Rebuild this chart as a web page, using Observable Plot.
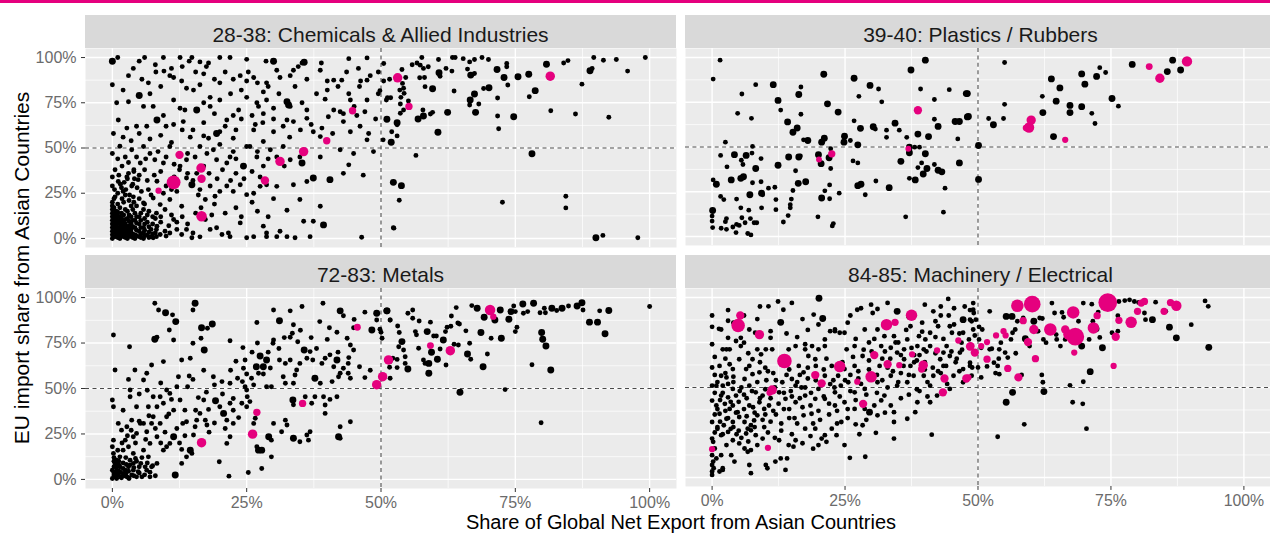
<!DOCTYPE html>
<html><head><meta charset="utf-8">
<script src="https://cdn.jsdelivr.net/npm/d3@7"></script>
<script src="https://cdn.jsdelivr.net/npm/@observablehq/plot@0.6"></script>
<style>
html,body{margin:0;padding:0;background:#fff;}
#chart{position:relative;width:1270px;height:533px;overflow:hidden;font-family:"Liberation Sans",Arial,sans-serif;}
.strip{position:absolute;background:#d9d9d9;color:#1a1a1a;font-size:21px;text-align:center;line-height:39px;white-space:nowrap;overflow:hidden;}
.pnl{position:absolute;}
</style></head><body><div id="chart"></div><script>
// ---------- data (percent units; third value = relative trade weight) ----------
const panelTitles = ["28-38: Chemicals & Allied Industries","39-40: Plastics / Rubbers","72-83: Metals","84-85: Machinery / Electrical"];
const xTitle = "Share of Global Net Export from Asian Countries";
const yTitle = "EU import share from Asian Countries";
const majorTicks = [0,0.25,0.5,0.75,1];
const minorTicks = [0.125,0.375,0.625,0.875];
const threshold = 0.5;

const chemicalsBlack = [
[0,98,2],[1,100],[6,100],[9.5,100],[12.6,100],[14.3,98],[14.8,100],[16.3,97.6],[17.9,97],[20,100],[21.9,100],[25,99],[28.6,98],[30,98,2],[35.7,97.4,2],[38.9,97],[44,99.4],[47.4,99.8],
[0,85],[3.9,94],[5.5,88],[6.7,86],[8.1,92],[9.6,92.5],[10.7,90],[11.4,89],[12.9,87],[13.8,83],[15.1,82],[16.3,85],[17,91],[18.2,78],[20,86],[22.5,88],[23.8,90],[25,87],[25.3,92],[26.3,89],[28.1,81],[28.7,86],[30.6,93],[31.2,89],[33.1,90],[33.7,93],[34.6,95],[35.3,97],[36.2,88],[38.7,93],[40,87],[41.2,87.5],[42.7,87.5],[43.6,92],[45.8,94],[46.2,87],[47.4,87.5],[49.5,92],[50.5,87],
[0.8,75],[3,75.6],[5,79,2],[5.8,73],[7.6,73],[9.5,68],[11.4,76.5],[12.6,72],[13.5,71],[15.7,71,2],[17,75],[18.2,73],[20,76.5],[22.5,68],[23.5,71],[25,78],[26.9,75],[27.2,73],[28.1,69],[28.7,76.5],[30,72],[32.5,75.6,2],[32.8,73.8,2],[33.1,73],[35.3,75],[36.2,71],[39.6,77],[41.2,71],[42.4,70],[44.3,76.5],[45.5,68],[47.4,76.5],[49.5,80],[51,76.5],
[0.2,58],[1.1,65.5],[2.7,61],[4.5,62],[6.4,62],[8.3,65.5,2],[10,62],[11.4,63],[13.2,64.6],[14.5,56],[17,56.7],[17.9,55.4],[19.4,58,2],[20,59],[21.3,65.5],[22.5,55.4],[25,50.8],[26.3,60],[26.6,63],[28.1,53.6],[30,59],[31.8,62],[32.5,65.5],[33.7,64.6],[36.2,66.4],[37.4,59],[38.7,56.3],[40.2,67.3],[43,64.6],[44.3,59],[46.1,62],[47.4,54.5],[47.7,58],[50.4,54.5],
[0,47],[1.4,51],[2.4,45],[3.6,49],[4.5,45],[5.2,41.7],[5.8,50.8],[7,47],[7.9,43.5],[9.5,41.7],[10.7,50.8],[12.6,40],[13.8,43.5],[15.4,45],[16.3,50.8],[17.6,47],[18.8,49],[19.4,43.5],[21.3,41.7],[21.9,45],[22.5,48],[24.4,40,2],[25.6,50.8],[26.9,45],[28.1,40],[29.4,49],[30.6,45],[31.8,50.8],[33.1,43.5],[34.9,45],[35.3,41.7,2],[37.4,33.4,2],[38.7,45],[40.5,32.5,2],[42.4,49],[44,40.7],[44.9,47],[46.7,35],[48.6,48],
[0,34],[0,29],[0.5,23],[1.1,31.5],[2,26],[2.7,34],[3.6,29],[3.9,23],[4.8,32.5],[5.8,19.6],[6.7,27],[7.6,22.4],[8.3,31.6],[8.9,18.7],[10,29],[10.7,21.5],[12,26],[12.9,17.8],[13.8,33.4],[14.8,29.7,2],[15.7,36],[16.3,27],[17.3,21.5],[18.2,29],[19.1,23.3],[20,26],[21.3,29],[22.5,26],[23.8,29.7],[25,24.2],[26.3,25],[27.5,28.8],[28.7,29.7],[30.6,28.8],[32.5,15.6],[33.7,29.7],[34.9,21.5],[36.2,31.5],[38.7,17.8],[43,36],
[7.6,0.4],[8.3,6.8],[8.9,2.2],[10,1.3],[10.7,3],[11.4,10.5],[12,5],[12.9,2.2],[13.8,5],[14.8,0.4],[16.3,0.9],[17.3,10.5],[18.2,5],[19.4,5.9],[20.4,2.2],[21.6,3],[21.9,1],[23.8,8.6],[25,0.4],[26.3,1],[28.1,6.8],[28.7,1],[28.7,3],[30.6,1],[31.2,4],[32.5,1],[34,0.4],[35.6,9.5],[36.8,1],[37.4,9.5],[39.3,7.5,2],[46.4,0.7],[52.3,5.9],
[0,0],[0,2],[0,4],[0,6],[0,8],[0,10],[0,12],[0,14],[0,16],[0,18],[0,20],[0.7,1],[0.7,3],[0.7,5],[0.7,7],[0.7,9],[0.7,11],[0.7,13],[0.7,15],[1.4,0],[1.4,2],[1.4,4],[1.4,6],[1.4,8],[1.4,10],[1.4,12],[1.4,17],[2.1,1],[2.1,3],[2.1,5],[2.1,7],[2.1,9],[2.1,13],[2.1,20],[2.8,0],[2.8,2],[2.8,4],[2.8,6],[2.8,11],[2.8,15],[3.5,1],[3.5,3],[3.5,5],[3.5,8],[3.5,12],[3.5,18],[4.2,0],[4.2,2],[4.2,6],[4.2,10],[4.2,14],[5,1],[5,4],[5,8],[5,12],[5,22],[5.8,0],[5.8,3],[5.8,6],[5.8,16],[6.5,2],[6.5,9],[6.5,13],[7.2,1],[7.2,5],[7.2,24],[8,3],[8,11],[1,25],[1.8,22],[2.5,27],[3.2,24],[4,20],[4.6,28],[0.4,27],[1.2,35],[2.2,31],[3,36],[4.1,33],[6,38],[5.4,26],
[0.3,1],[0.3,3.5],[0.3,6.5],[0.3,9],[0.3,11.5],[0.3,13.5],[0.3,17],[0.3,22],[1,0.5],[1,2.5],[1,4.5],[1,6],[1,8.5],[1,10],[1,12.5],[1,14.5],[1,19],[1.7,1.5],[1.7,3.5],[1.7,5.5],[1.7,7.5],[1.7,9.5],[1.7,11],[1.7,14],[1.7,28],[2.4,0.5],[2.4,2.5],[2.4,4.5],[2.4,6.5],[2.4,8],[2.4,10.5],[2.4,16],[2.4,24],[3.1,1.5],[3.1,3.5],[3.1,5.5],[3.1,7],[3.1,9.5],[3.1,13],[3.1,21],[3.8,0.5],[3.8,2.5],[3.8,6.5],[3.8,10],[3.8,16],[3.8,30],[4.5,1.5],[4.5,4.5],[4.5,8.5],[4.5,12],[4.5,18],[5.3,0.5],[5.3,2.5],[5.3,6],[5.3,10],[5.3,14],[6,1.5],[6,4.5],[6,8],[6,11],[6,19],[6.8,0.5],[6.8,3.5],[6.8,6.5],[6.8,15],[7.5,2.5],[7.5,8],[7.5,12],[8.2,1],[8.2,5],[8.2,14],[9,9],[9,12],[9.8,4],[9.8,16],[10.5,7],[11,13],[12,9],[13,12],[14,8],[15,3],[15.5,14],[16.5,17],[18.5,13],[19,19],[21,14],[23,17],[24,12],[26,20],[27,15],[29,12],[30,22],
[1.5,30],[2.8,33],[4,37],[5,35],[6.5,32],[7.8,35],[9,37],[9.5,25],[11,27],[11.5,34],[12.5,38],[14,36],[15,32],[16,24],[18,36],[19.5,33],[20.5,38],[22,32],[23,36],[24.5,33],[26,37],[27.5,34],[1.8,40],[3,42],[4,38],[6.2,44],[8.5,48],[10,45],[11.5,41],[14,47],[17,40],[20,52],[23,44],[27,48],[29,44],[32,40],[0.5,38],[1,44],[2,56],[3.5,54],[5,58],[7,55],[9,57],[11,53],[13,60],[15,60],[17,64],[19,69],[21,62],[23,60],[24,66],[26,68],[28,64],[30,66],[33,56],[35,60],[37,63],[39,61],[41,58],[43,69],[45,73],[47,70],[49,66],[38,80],[40,82],[42,84],[44,80],[46,84],[48,90],[34,84],[31,80],[29,84],[27,86],[24,82],[22,80],[21,92],[19,88],[17.5,95],[15.5,92],[13,95],[11,94],[8,96],[5,98],[3,90],[2,82],[7,80],[9,84],
[50.5,96.7],[51.6,88],[49.8,81.7],[51.2,77.8],[51.8,77.8],[51.1,65.9,2],[53,64,2],[53,62.8],[52,59],[53,56.7],[51.9,53.2,2],[53.9,93.4],[55.8,96],[56.7,97],[57.3,95.8],[57.6,100],[57.9,94],[58.8,94.9],[57.2,88.8],[58.1,89],[54.6,89],[54,85.7],[54.2,83],[54.3,80.2],[53.5,82],[53.7,78],[55.1,76],[53.6,74.3],[54.2,71],[53.6,69.2],[56.9,66,2],[57.8,71],[57.9,67.7,2],[59.2,68.8],[59.6,69.7],[58.2,83.9],[59.6,82.8,2],[60.6,58.7,2],[56.5,45.9],[60.7,98.9],[60.8,91.6,2],[61,89.7],[62.1,94],[62.4,69.7,2],[63.2,92.5],[63.3,100],[63.8,100],[65.3,99.4],[63.6,81.5],[66.5,97.6],[67.4,98.9],[66.1,93.6],[66.7,90.3,2],[67.4,91.2],[66.6,76.5,2],[66.5,73.8],[67.4,79.8,2],[67.6,69.7,2],[68.2,74.3],[68.8,100],[70,98.9],[69.1,82.9],[70.1,83.3,2],[71.6,93.4,2],[71.7,77.6],[71.7,67.7],[71.9,60.6],[72.9,89,2],[73.4,96.7],[73.4,94.9],[73.6,84.8],[74.7,67.3,2],[75.5,89.4,2],[77.5,90.8,2],[78.7,81.7,2],[77.6,78.3],[78.1,46.8,2],[80.8,96.3,2],[81.6,70.6],[84,97],[84.8,98.3],[86.2,68.8],[87.4,85.3],[88.9,92.7,2],[89.3,94],[89.6,100],[91.4,98.5],[93.8,98.9],[95.9,92.5],[99.2,100],[92.4,67],
[52.3,31,2],[53.8,29.2,2],[53.4,21.1],[52.4,5.7],[72.6,20],[84.4,23.3],[84.4,16.9],[90,0.4,2],[91.3,1.7],[97.8,0.4]
];
const chemicalsPink = [[8.6,26.4,2.5],[11.4,31,12],[12.5,46.2,4.4],[16.5,38.9,5.6],[16.6,33,4.4],[16.6,12.3,6.9],[28.4,32,4.4],[31.2,42.6,5.6],[35.6,48,5.6],[39.9,54,3.4],[44.7,70.6,3.4],[53.1,88.8,5.6],[55.2,73,3.4],[81.5,89.7,5.6]];

const plasticsBlack = [
[1.5,98.5],[0.2,87.9],[8.2,84.8],[11.5,84.8,2],[5.6,79.6],[12.4,76,2],[4.8,68.8],[7.4,66],[12.9,70.6],[14.2,64,2],[15.2,58.2,2],[16,60.6,2],[16.3,79.3,2],[16.7,83.5],[16.7,68.3],[17.2,54],[18,53.6,2],[21,90.6,2],[21.7,74.1,2],[23.7,69.5,2],[20.6,52.7,2],[21.1,54.9,2],[22.3,49],[20,45.7,2],[20.5,40.7,2],[22,44,2],[22.3,38],[24.9,56,2],[24.8,52.7,2],[26,53.6],[26.7,88.4,2],[27.6,78.3],[26.7,64.6],[27.9,60.4,2],[27.4,51.2,2],[26.5,42.2],[27.4,41.1],[29.7,84.4,2],[31.3,82.4],[31.9,75.2],[30.3,61.3,2],[30.7,60],[32.8,59.4],[32.8,55.4],[34.4,63.3,2],[35.2,59.4],[36.6,55.4],[37.4,93,2],[40.1,98.5,2],[39.2,82.4],[41.8,76.5],[44.6,82],[48,79.8,2],[41.8,65.5],[42.5,61.5,2],[45.7,64.2,2],[46.5,64.2,2],[48,66.8,2],[46.2,54.5],[38.7,57.2,2],[40.7,55.8,2],[37.1,49.9,2],[38.1,49.9],[39,49.9],[37.1,46.8,2],[40.1,46.2,2],[35.5,42,2],[38.7,38.5],[39.4,41.1],[40.4,38,2],[39.7,34.9,2],[41.8,40.2],[42.5,37,2],[43.2,36.1,2],[46.5,41.1,2],[37.1,32.5],[38.2,31.6,2],[43.8,27],[43.5,13.6],[36.4,11],[33.3,27.3,2],[30.8,31],[28.8,23.3],[28,29.2,2],[27.4,28.4,2],[23.9,24.2],[22.1,28.8],[22.1,21.1],[20.6,21.5,2],[21.2,25.5],[19.9,11],[22.6,5.9],[22.8,7.2],[17.6,30.6,2],[16.2,29.7,2],[15.2,25.7],[14.9,20.9],[14.7,17.8],[14.7,16],[14.3,11.7],[13.4,8.1],[12.4,39.8,2],[15.7,36.7],[14.4,44.4,2],[16.3,44.4,2],[16.6,45],[11.8,27.5],[12,20.6],[12,15],[10.6,27],[9.3,24.2,2],[9.3,16],[9.5,23.3],[9.2,30.6],[7.6,30],[7.1,23.3,2],[6.9,14.7],[8.4,7.7],[7.9,7.7],[7.2,10],[6.2,7.7],[5.4,16],[5.6,10.5],[5.1,6.2],[4.6,6.8],[3.9,5.3],[4.5,2.2],[6.7,1.7],[7.3,0.9],[2.7,10],[2.5,8.3],[1.7,4.6],[2.7,4],[0.1,14.5,2],[0,11.4],[0,8.6],[0.1,5],[0.2,31.6],[0.8,29.2,2],[1.6,22.4],[2.2,20.6],[2.8,38.9],[1.6,45.3],[2.5,52.7],[3.6,31.6,2],[4.6,20.9],[4.2,45.7,2],[5.5,42.6],[5.8,40.2],[5.4,32.5,2],[5.9,33.4,2],[6.4,45.3,2],[7.5,46.6],[7.6,50.3],[8.2,38,2],[9.2,43.5],
[47.8,79.8,2],[48.2,67,2],[50.1,50.8,2],[50.1,31.9,2],[52,65.9],[52.9,62.4,2],[54.8,65.9],[55,97.2],[55,73.8],[62.2,69.2,2],[62.1,78.3],[63.8,88,2],[65.4,83,2],[64.7,75.6,2],[64.2,55.8,2],[67.3,73.2,2],[67.3,69.2,2],[69.5,72.5,2],[69.5,90.8,2],[70.1,85.1,2],[71.4,68.8],[72,63.1],[72.3,89.4,2],[72.9,94.3],[74,91.6],[75.2,77.1,2],[76.4,72.8],[79,96.1,2],[85.6,92.1,2],[86.6,98.5,2],[88.1,93,2]
];
const plasticsPink = [[38.7,70.5,4.4],[22.5,46.2,3.4],[20.1,43,2.2],[36.9,49,2.2],[59.6,60.9,6.9],[60,65,5.6],[59,60.6,2.5],[66.4,54,2.5],[82.2,94.9,3],[84.2,88.4,5.6],[89.3,97.8,6.9]];

const metalsBlack = [
[7.9,96.9],[8.6,93.2],[9.9,91.7,2],[11.2,90.5],[11.8,86.8,2],[10.6,82.2],[11.4,76.7],[7.9,77.1,2],[8.3,78.2],[15.4,96.9,2],[15,93.2],[16.6,83.4,2],[17.7,83.1],[18.6,85.5,2],[15,74.9],[17.1,71.2,2],[16.5,77.6],[0.2,79.4],[3.2,73],[21.9,76.3],[24.3,72.5],[26.9,86.3],[31.1,87.3,2],[33.1,92.7],[35.3,95.1],[30,93.2],[39.2,96.9],[42.4,92.7,2],[38.6,86.8],[40.4,83.4],[41.8,80.9],[44.9,83.4],[48.3,82.2,2],[49.2,91.4,2],[49.2,87.7],[51.1,92.7,2],[50,81],[51.7,87.7],
[30,76.7],[29.9,74.9],[33.7,85.1],[33.5,80.4],[33.1,78.2],[34.5,75.7],[35.7,71.2,2],[36.8,70.3],[36.2,66.6],[37.3,65.7],[34.9,63.8],[34.3,60.2],[33.1,65.7],[32.2,63.8],[31.1,65.7],[28.7,65.7,2],[27.5,67.9,2],[28.1,62,2],[26.8,62,2],[29.4,61.3],[27.2,58.4],[28.1,58],[25.9,55.6],[24.7,65.7],[24.4,61.1],[23.3,55.6],[21.9,52.9],[24.2,53.8],[24.7,51],[25,49.2],[26.3,52],[25.1,45.5],[25.6,42.8],[25,40],[24.1,41.9],[22.5,44.5],[21.9,41.9],[28.7,51],[29.6,51],[31.8,56.5],[32.2,52.9],[34,57.4],[33.7,52.9],[33.6,43.7,2],[33.7,41],[35.9,45.5],[37.7,55.6,2],[38.7,52.9],[37.7,45.5],[37.1,41.9],[39,63.8],[39.6,66.6],[40.5,68.5],[41.8,65.7,2],[41.2,62],[42.4,58.4],[43,61.1],[43.9,63.8],[43.9,58.4],[44.9,71.2],[44.3,73.9],[43.7,77.6],[44.3,55.6],[42.1,56.5],[40.9,53.8],[39.3,45.5],[40.5,44],[39.6,40.9],[41.8,45.5],[39.6,36.3],[44.3,31.7],[42.4,29],[42.1,23.5,2],[42.4,22.6],[36.8,26.2],[36.2,24.4],[36.5,21.6],[34.9,20.7],[33.7,22.6,2],[31.5,26.2],[32.2,32.6],[32.5,29.9],[30,30.8],[29.1,23.5,2],[29.6,21.6],[29.6,12.4],[27.8,6],[27.2,16.1,2],[26.9,18],[27.8,16.1,2],[25.3,3.8],[26.3,30.8],[26.6,33.6],[22.5,30.8],[21.3,32.6],[20.7,36.3,2],[21.3,19.8],[21.9,23.5],[21.7,1.8],[19.9,9.7],[20.4,53.8],[18.8,56.5],[19.2,43.3,2],[17.9,38.5],[17,43.7],[17.3,32.6],[17.6,29.9],[16.3,36.3],[15.7,32.6],[15.4,29],[15.1,24.4],[14.5,16.1,2],[13.8,12.4],[14.8,14.3],[12.9,8.8],[12.9,16.5],[11.7,2.4,2],[11.4,23.5,2],[10.7,19.8],[10.1,18],[9.5,16.1],[11.4,38.1],[10.1,34.5],[9.5,41.9],[8.9,45.5],[8.3,40],[10.1,49.2],[10.7,47.3],[12,51],[12.6,43.7],[13.5,38.1],[13.1,30.8],[13.8,31.7],[14.5,66.6],[12.9,65.7],[14.3,56.9],[12.3,56.5],[9.5,64.8],[7.3,62.9],[6.4,58.4],[5.8,54.7],[7.6,45.5],[6.7,40],[5.8,30.8],[4.5,40],[3.3,45.5],[3.3,49.2],[4.2,60.2],[0.5,60.2],[0,43.7],[0.2,40],[1.1,30.8],[1.7,27.1],[2.4,21.6],[2.7,29],[3.6,32.6],[3.9,23.5],[4.5,25.3],[5.2,30.8],[6.4,26.2],[7.3,30.8],[7.6,34.5],[8.3,23.5],[8.9,30.8],[7,19.8],[5.8,16.1],[5.3,8.8],[6.7,12.4],[7.3,6.9],[8.3,8.8],[6.4,5.1],[4.5,1.4],[3.9,5.1],[3.3,10.6],[2.7,1.4],[2,3.3],[1.4,6.9],[0.8,10.6],[0.2,14.3],[0,18],[0.2,21.6],[0,5.1],[0,0.5],[0.5,1.4],[1.1,2.4],[1.7,0.9],[2.4,5.1],[3,6.9],[3.6,2.4],[3.9,8.8],[4.8,4.2],[5.5,1.4],[6.1,6.9],[7,1.4],[0.8,6.9],[0.5,8.8],[1.4,12.4],[2,16.1],[3,18],[3.9,14.3],[0.3,3],[1.2,4.6],[2.2,2],[3.1,0.5],[2.6,8.2],[4.3,11.5],
[0.3,2],[0.3,4],[0.3,7],[0.3,10],[0.3,12],[0.8,0.5],[0.8,3],[0.8,5],[1.2,8],[1.2,10],[1.5,1.5],[1.5,4],[2,6],[2,9],[2.5,3],[2.5,12],[3,1],[3,4.5],[3.3,8],[4,2],[4,6.5],[4.5,10],[5,3.5],[5,7],[5.5,12],[6,2.5],[6.5,9],[7,4],[7.5,7.5],[8,2],[1,16],[1.8,20],[2.8,24],[3.5,27],[4.3,20],[5,32],[6.2,22],[6.8,35],[8,28],[9,20],[9.8,26],[10.5,36],[12,28],[12.5,20],[13.5,24],[15.5,38],[16,45],[17.5,48],[18,26],[19,31],[20,40],[21,28],[22.5,38],[23.5,34],[2,38],[3,55],[5,47],[6.5,49],[9,53],[11,44],[14,51],[15,55],[17,60],[19,52],[20.5,47],[22,60],[23,65],[25,58],[26,70],[27,75],[29,70],[31,72],[32,78],[35,82],[37,78],[38,72],[40,77],[42,70],[44,67],[46,62],[47,56],[48,60],[45,88],[47,92],[43,90],
[51.1,92.7,2],[51.7,87.7],[49.8,82.6],[50.2,77.6],[53.1,84.4],[53.4,80.8],[53.9,75.8,2],[53.3,73],[54.2,71.2],[54.5,67.5],[53,66],[51.7,64.8],[52.2,66.6],[51.6,61.7],[53,61.5],[54.5,63.8],[55,60.7,2],[51.7,55.6],[55,91.4],[55.9,93.2],[55.9,88.6],[57.1,87.1],[56.4,81.3],[56.6,79.5],[57,72.1],[57.9,65.7],[58.2,63.8],[58.9,63.8,2],[58.9,58.4,2],[59.2,86.5],[58.6,81.3,2],[59.8,78.9],[60.3,78.9],[59.4,69.9,2],[60.5,66.1,2],[61,71.7],[61.6,76.7,2],[62,81.3],[62.3,83.7],[63.1,89.9],[64,94.5],[63,84.2],[64.3,86],[64.6,85.5],[62.1,62.9],[63.6,74.3],[64.4,73.9],[64.7,47.9,2],[65.8,81.7],[66.1,69,2],[66.5,74.9],[66.7,66.1],[66.9,95.6],[67.9,94.1,2],[68.6,80.8,2],[69,62,2],[69.2,89.2,2],[69.8,69],[70.5,77.6],[71.2,87.7,2],[72.2,93.2,2],[72.4,77.6,2],[73.1,49.4],[73.8,88.1,2],[74.2,92.3,2],[74.7,95.4],[75,81.3],[75.3,83.7],[75,92.3],[76.4,96.5,2],[76.5,91.4],[77.3,92.3],[78.4,96.9,2],[78.1,63.1],[79.6,91.7],[79.9,80.8,2],[80.1,77.1,2],[80.7,73.4,2],[80.4,94.1],[80.6,91.7],[81.6,60.2,2],[79.8,31.2],[81.8,94.1,2],[82.7,92.9],[83.7,94.1,2],[84.9,95.4],[86.5,95.4,2],[87.4,97.2,2],[87.6,93.2],[88.8,86.5,2],[90.3,86.5,2],[90.7,92.7],[91.7,80.1,2],[92.4,92.9,2],[100,95.1]
];
const metalsPink = [[16.6,20.2,5.6],[26.1,24.9,5.6],[26.9,36.9,3.4],[35.4,41.8,3.4],[45.6,83.7,3],[49.2,52.1,5.6],[50.3,56.5,5.6],[51.4,65.7,5.6],[59.2,73.6,3],[62.9,70.8,5.6],[70.3,93.2,6.9],[70.9,89.5,2.5]];

const machineryBlack = [
[0,83.7],[0,74],[0,61.1],[0,51],[0,42.7],[0,30.8],[0,21.6],[0,12.4],[0,6.9],[0,3.3],[0,1.4],[0.2,8.8],[0.3,5.1],[0.5,16.1],[0.2,19.8],[0.8,10.6],[1.4,3.3],[2,5.1],[1.3,82.6],[1.7,82.2],[3,87.1],[2.7,71.2],[3.3,71.2],[2,71.2],[1.4,62],[3.3,62.9],[1.7,56.5],[2.7,55.6],[3.9,60.2],[0.8,51],[2,51],[3.9,49.2],[1.7,45.5],[3,44.5],[4.5,45.5],[0.8,40],[2.4,40.9],[3.3,38.1],[3.9,40],[4.8,36.3],[1.4,35.4],[2.7,32.6],[3.9,30.8],[5.1,33.6],[6.1,30.8],[6.7,27.1],[7.3,29],[7.9,31.7],[8.5,34.5],[6.4,24.4],[7.3,26.2],[8.2,23.5],[9.5,21.6],[5.1,18.9],[3.9,20.7],[3,25.3],[1.7,23.5],[2.7,18],[1.7,12.4],[3.6,12.4],[4.2,8.8],[2,4.2],[7.3,2.4],[7,6.9],[6.1,16.1],[6.7,14.3],[7.3,15.2],[10.1,6.9],[10.4,5.1],[11.9,8.8],[12.9,10.6],[13.8,4.2],[14.1,10.6],[12.6,20.7],[14.4,18],[15.3,17.1],[15.7,20.7],[17.5,27.1],[17.2,34.5],[18.7,35.4],[19.4,27.1],[20.6,21.6],[20,18],[21.2,23.5],[21.5,19.8],[22.5,27.1],[23.4,23.5],[24.3,30.8],[24.9,18],[25.9,10.9],[28.8,11.5],[27.7,24],[28.3,29],[30.8,24.8],[28.7,38.1],[29.6,36.3,2],[31.1,34.5],[31.8,42.8],[34.2,30.8],[34.2,21.6],[34.2,36.3],[33.6,40],[32.4,45.5],[36.7,32.6],[38.6,41.8],[38.2,36.3],[41,41.8],[41.3,23.8],[42.3,45.5],[44.7,49.2],[45.4,56.5],[47.2,52.9],[47.2,60.2],[48.5,63.8],[48.8,56.5],[46.6,69.4],[46.9,74.9],[47.2,80.4],[48.5,87.7],[49.1,93.2],[47.2,87.7,2],[44.7,84],[45.1,80.4],[44.1,73],[43.5,69.4],[44.7,67.5],[42.9,65.7],[44.4,99.2],[41.6,92.3],[42,86.8],[41,80.4],[40.1,76.7],[39.8,71.2],[38.9,78.5],[38.6,73],[37.3,84],[36.7,76.7],[36.1,71.2],[34.8,92.3,2],[31.1,93.6],[29.9,96],[30.2,91.4],[27.3,93.2],[28.7,82.2],[31.1,82.2],[32.4,78.5],[34.2,78.5],[33.6,72.1],[31.8,73],[34.8,69.4],[36.1,65.7],[37.3,62],[37.9,56.5],[39.8,56.5],[41.6,56.5],[41,51],[36.7,52.9],[34.8,51],[33.6,56.5],[31.1,52.9],[28.7,49.2],[26.8,47.3],[25.6,52.9],[23.1,47.3],[22.2,51.9],[21.2,56.5],[23.7,56.5],[24.9,60.2],[26.8,62],[28.3,67.5],[26.8,73],[25.3,71.2],[24,80.4],[23.1,82.2],[21.2,73],[20,71.2],[18.8,73],[17.5,71.2],[18.1,67.5],[19.4,65.7],[16.3,62],[17.2,58.4],[15,54.7],[15.7,51],[13.2,52.9],[12.6,47.3],[13.8,43.7],[15.7,41.8],[17.5,45.5],[19.4,43.7],[21.2,43.7],[23.1,40],[24.9,41.8],[26.8,38.1],[20,49.2],[10.7,40],[9.8,38.1],[8.9,41.8],[9.5,45.5],[8.2,47.3],[7,51],[6.1,54.7],[7.6,57.4],[8.9,58.4],[6.4,60.2],[9.2,68.4],[10.1,71.2],[11.3,71.2],[8.5,71.2],[7.6,65.7],[5.1,65.7],[5.4,73],[6,74.9],[4.5,75.8],[5.4,77.6],[3,77.6],[7,82.2],[8.1,80.4],[11,77.6],[11,81.3],[12.4,97.8],[10.6,95.1],[13.4,93.2],[12.9,86.2,2],[14.4,71.2],[15.7,73],[17.5,74],[19.1,90.5],[20.1,99.6,2],[20.8,88.3,2],[21.2,76.7],[22.2,81.3],[23.1,81.3],[24.9,80.4],
[1,27],[2.2,29],[3.5,27],[4.6,24],[5.5,22],[6.8,20],[8.5,18],[9.8,28],[11,31],[12,35],[13.5,38],[14.5,33],[16,30],[10.5,25],[11.8,22],[13,26],[15,24],[17,19],[19,16],[18.5,23],[20.3,32],[22,35],[23.5,37],[25.5,33],[27,29.5],[29,32],[30.5,40],[32.5,36],[35.5,44],[37,46],[39,48],[40.5,53],[42.5,59],[43.5,62],[45.8,64],[46.5,59],[44.2,52],[40,60],[38.5,65],[35.5,58],[33,61],[31,57],[29.5,60],[27.5,55],[26,57],[24.2,51],[22.8,54],[21,60],[19.5,62],[18,55],[16.5,57],[14.5,60],[13,63],[11.5,58],[10,61],[9,64],[10.2,54],[11.8,50],[14.8,48],[16.8,50],[18.6,47],[4,53],[5.2,48],[6.5,44],[7.7,39],[2.5,66],[6.8,69],[4,86],[0,90],[8.5,88],[16,78],[18,82],[14,80],[20,85],[25.5,86],[27,77],[29.5,75],[30,70],[32,66],[35,75],[37,89],[39.5,86],[42,78],[43,90],[45.5,94],[40.3,70],[38,68],
[0.5,25],[0.5,35],[0.5,47],[0.5,57],[0.5,67],[1,28],[1,38],[1,53],[1.5,43],[1.5,31],[2,24],[2,47],[2.5,37],[2.5,58],[3,33],[3,52],[3.5,42],[4,28],[4,56],[4.5,36],[5,42],[5,26],[5.5,50],[6,38],[6,46],[6.5,34],[7,40],[7,62],[7.5,48],[8,36],[8,28],[8.5,53],[9,44],[9.5,32],[10,49],[10,35],[10.5,59],[11,44],[11.5,37],[12,54],[12.5,41],[13,30],[13.5,47],[14,57],[14.5,38],[15,45],[15.5,33],[16,53],[16.5,44],[17,39],[17.5,50],[18,61],[18.5,40],[19,30],[19.5,54],[20,37],[21,45],[21.5,66],[22,41],[22.5,62],[23,50],[23.5,30],[24,45],[24.5,64],[25,54],[25.5,38],[26,48],[26.5,67],[27,43],[27.5,59],[28,52],[28.5,71],[29,46],[29.5,65],[30,57],[30.5,77],[31,47],[31.5,62],[32,54],[32.5,70],[33,50],[33.5,66],[34,59],[34.5,75],[35,53],[35.5,68],[36,62],[36.5,82],[37,57],[37.5,72],[38,64],[38.5,49],[39,68],[39.5,81],[40,64],[40.5,45],[41,73],[41.5,61],[42,69],[42.5,84],[43,58],[43.5,77],[44,62],[44.5,90],[45,70],[45.5,85],[46,66],[46.5,80],[47,71],[47.5,95],[3,93],[6,90],[9,95],[15,97],[17,88],[26,90],[28,94],[33,97],[40,96],[43,95],
[48.5,93],[49.1,96.9],[49.2,91.4],[48.8,86.8],[49.6,87.7],[50.2,83.7],[50.8,82.2],[49.1,82.2],[49.4,78.9],[48.3,76.7],[50.2,76.7],[50.6,72.1],[49.2,69.4],[48.9,61.1],[50,61.1],[48.5,62],[50.6,55.6],[51.7,61.7],[52.2,71.2],[52.6,71.5],[52.2,92.3],[53,63.8],[53.9,66],[54,71.2],[54.3,74.9],[53.7,62],[53.3,58],[54,57.4],[55.3,89.5,2],[56.4,89.5,2],[55.6,66.6],[55.1,69.4],[56.2,76.7],[56.5,80.4],[57,82.2],[57.1,69],[57.4,86.8],[58.5,88.6],[58.2,57],[56.5,47.3,2],[55.3,41.8,2],[58.7,29.5],[53.7,22.6],[58.9,77.1,2],[59.7,73],[61.1,81.3],[60.5,86.8,2],[61.3,81.3],[61.6,88.6],[62.1,88.3],[62.3,76.7],[62.8,74.9],[62,57],[62.2,52.9],[62.4,47.7,2],[63.9,96.9],[64.4,91.4],[64.7,79.4],[64.8,76.7],[65.5,73],[65.8,91.7],[66.1,89],[66.4,76.7],[67.3,51.2],[67.8,41.8],[68.9,86.8],[69.5,73,2],[69.8,53.2],[69.7,40.9],[69.8,96.9],[70.4,27.1],[71.1,58.8,2],[70.9,76.7],[71.4,96.3],[71.6,86.8],[72.2,82.6,2],[72.6,91.9],[72.9,77.8],[73.4,72.1,2],[73.4,96.9],[75.2,80.4],[76.3,81.3],[76.3,89.9],[76.5,97.8],[77.6,98.3],[78.5,98.7],[79.4,97.8],[80.2,97.2],[81.3,91.4],[81.5,87.7],[82.8,87.7,2],[83.4,97.4],[85.3,92.3],[86,83.5,2],[87.3,77.6,2],[90.1,84.9],[92.7,98.1],[93.3,95.1],[93.4,72.3,2]
];
const machineryPink = [[5.3,90,4.4],[4.9,84.4,11.7],[8.9,79.4,5.6],[13.6,64.7,13.6],[11.3,48.6,5.6],[10.8,47,2.5],[10.5,16.5,2.5],[0,15.7,2.5],[19.4,56.9,4.4],[20.6,52.3,4.4],[24,61.6,8.4],[27.3,53.2,2.5],[28.4,40.9,4.4],[29.9,55.9,8.4],[30.5,68,4.4],[33,62.9,4.4],[32.8,84.9,8.4],[34.4,86.2,3.4],[35.2,62.4,2.5],[37.5,90.1,8.4],[37.6,68.4,2.5],[39.7,62.4,5.6],[39.4,60.2,3.4],[42.3,70.6,2.5],[43.7,55,4.4],[43.4,47.3,4.4],[46.3,76.1,2.5],[47.8,55,4.4],[48.5,72.7,4.4],[49.4,69.4,2.5],
[57.4,95.4,10],[60.2,96.3,17.7],[58.5,87.1,3.4],[60.5,82.2,5.6],[63.6,82.2,10],[59.4,75.2,4.4],[60.8,66,3.4],[57.6,55.6,4.4],[55.6,60.6,3.4],[54.8,81.3,2.5],[53.4,78.9,2.5],[55.2,78.9,2.5],[51.7,75.2,2.5],[50.6,73,2.5],[51.7,65.7,3.4],[49.4,69.4,4.4],[48.6,73,4.4],[48.2,55.6,2.5],[66.4,82.2,4.4],[67.9,91.7,10],[68.3,78.2,20],[67,79.4,6.9],[68.1,69.4,2.5],[71.7,83.1,8.4],[72.4,89.9,3.4],[74.4,97.2,22.4],[75.9,78.2,4.4],[75.5,62,2.5],[76.5,87.3,3.4],[78.8,86.2,8.4],[80,92.3,3.4],[80.7,96.9,3.4],[81.3,97.8,3.4],[85,92.3,3.4],[86.2,97.2,3.4],[87.3,95.4,6.9]];

// ---------- build ----------
// black points: listed weight 1 = ordinary, 2 = larger; scaled to the trade-weight units of the pink points
const toRows = (arr, k) => arr.map(([x, y, w = 1]) => ({x: Math.max(0, x) / 100, y: y / 100, w: w * k}));
const panels = [
  {title: panelTitles[0], black: toRows(chemicalsBlack, 1.5), pink: toRows(chemicalsPink, 1)},
  {title: panelTitles[1], black: toRows(plasticsBlack, 1.5), pink: toRows(plasticsPink, 1)},
  {title: panelTitles[2], black: toRows(metalsBlack, 1.5), pink: toRows(metalsPink, 1)},
  {title: panelTitles[3], black: toRows(machineryBlack, 1.5), pink: toRows(machineryPink, 1)}
];
const geom = [
  {left: 0, top: 48, width: 676, ml: 85, mb: 0, h: 199, stripTop: 15, showX: false, showY: true},
  {left: 685, top: 48, width: 591, ml: 0, mb: 0, h: 199, stripTop: 15, showX: false, showY: false},
  {left: 0, top: 288, width: 676, ml: 85, mb: 36, h: 236, stripTop: 255, showX: true, showY: true},
  {left: 685, top: 288, width: 591, ml: 0, mb: 36, h: 236, stripTop: 255, showX: true, showY: false}
];
const chart = document.getElementById("chart");
const pinkColor = "#e5007e";
const pct = d3.format(".0%");
const FONT = "'Liberation Sans', Arial, sans-serif";

const bar = document.createElement("div");
bar.style.cssText = `position:absolute;left:0;top:0;width:1270px;height:3px;background:${pinkColor};`;
chart.appendChild(bar);

panels.forEach((p, i) => {
  const g = geom[i];
  const marks = [
    Plot.frame({fill: "#ebebeb", stroke: "none"}),
    Plot.ruleX(minorTicks, {stroke: "#fff", strokeWidth: 0.7}),
    Plot.ruleY(minorTicks, {stroke: "#fff", strokeWidth: 0.7}),
    Plot.ruleX(majorTicks, {stroke: "#fff", strokeWidth: 1.4}),
    Plot.ruleY(majorTicks, {stroke: "#fff", strokeWidth: 1.4}),
    Plot.ruleX([threshold], {stroke: "#4a4a4a", strokeWidth: 1.1, strokeDasharray: "4,3.5"}),
    Plot.ruleY([threshold], {stroke: "#4a4a4a", strokeWidth: 1.1, strokeDasharray: "4,3.5"}),
    Plot.dot(p.black, {x: "x", y: "y", r: "w", fill: "#000", stroke: "none"}),
    Plot.dot(p.pink, {x: "x", y: "y", r: "w", fill: pinkColor, stroke: "none"})
  ];
  if (g.showY) marks.push(Plot.axisY(majorTicks, {tickFormat: pct, tickSize: 4, tickPadding: 5, fontSize: 16, fill: "#6b6b6b", stroke: "#333", label: null}));
  if (g.showX) marks.push(Plot.axisX(majorTicks, {tickFormat: pct, tickSize: 4, tickPadding: 4, fontSize: 16, fill: "#6b6b6b", stroke: "#333", label: null}));
  const svg = Plot.plot({
    width: g.width, height: g.h,
    marginLeft: g.ml, marginRight: 0, marginTop: 0, marginBottom: g.mb,
    x: {domain: [-0.05, 1.05], axis: g.showX ? undefined : null},
    y: {domain: [-0.05, 1.05], axis: g.showY ? undefined : null},
    r: {type: "sqrt", domain: [0, 1], range: [0, 2]},
    style: {fontFamily: FONT, background: "transparent", overflow: "visible"},
    marks
  });
  const wrap = document.createElement("div");
  wrap.className = "pnl";
  wrap.style.left = g.left + "px";
  wrap.style.top = g.top + "px";
  wrap.appendChild(svg);
  chart.appendChild(wrap);

  const strip = document.createElement("div");
  strip.className = "strip";
  strip.style.left = (g.left + g.ml) + "px";
  strip.style.width = (g.width - g.ml) + "px";
  strip.style.top = g.stripTop + "px";
  strip.style.height = (g.top - g.stripTop) + "px";
  strip.textContent = p.title;
  chart.appendChild(strip);
});

const xt = document.createElement("div");
xt.style.cssText = "position:absolute;left:0;width:1362px;top:512px;text-align:center;font-size:20px;line-height:20px;color:#000;white-space:nowrap;";
xt.textContent = xTitle;
chart.appendChild(xt);

const yt = document.createElement("div");
yt.style.cssText = "position:absolute;left:21px;top:268px;transform:translate(-50%,-50%) rotate(-90deg);font-size:21px;line-height:21px;color:#000;white-space:nowrap;";
yt.textContent = yTitle;
chart.appendChild(yt);
</script></body></html>
